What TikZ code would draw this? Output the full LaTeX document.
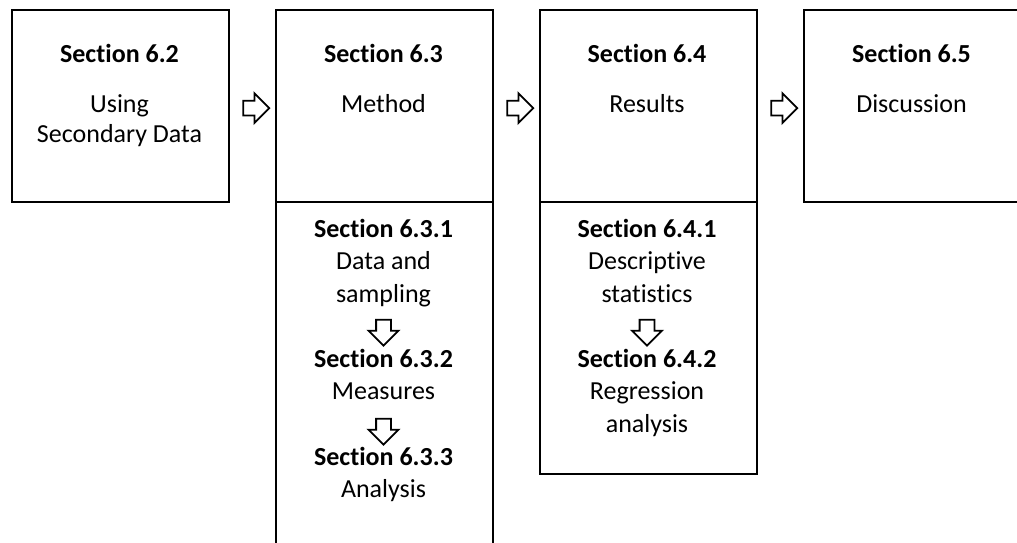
\documentclass[tikz,border=0pt]{standalone}
\usepackage{fontspec}
\setmainfont{Carlito}[Ligatures=NoCommon]
\usetikzlibrary{shapes.arrows,calc}

\begin{document}
\begin{tikzpicture}[x=1pt, y=-1pt,
  secbox/.style={draw, line width=2.2pt, anchor=north west, minimum width=217pt, inner sep=0pt},
  sectext/.style={anchor=north, align=center, inner sep=0pt, font=\fontsize{26}{32.5}\selectfont},
  toptext/.style={sectext, font=\fontsize{26}{30}\selectfont},
  rarrow/.style={single arrow, draw, line width=1.8pt, fill=white, minimum height=26pt, inner xsep=0pt, inner ysep=6.5pt, single arrow head extend=7.5pt, single arrow head indent=0pt},
  darrow/.style={rarrow, shape border rotate=270, inner xsep=6.5pt, inner ysep=0pt}]
\clip (0,0) rectangle (1017,543);
\node[secbox, minimum height=192pt] (S2) at (11,9) {};
\node[secbox, minimum height=192pt] (S3) at (275,9) {};
\node[secbox, minimum height=360pt] (S3sub) at (275,201) {};
\node[secbox, minimum height=192pt] (S4) at (539,9) {};
\node[secbox, minimum height=272pt] (S4sub) at (539,201) {};
\node[secbox, minimum height=192pt] (S5) at (803,9) {};
\node[toptext] (T2) at (119.5,41) {\strut\textbf{Section 6.2}\\[20pt]Using\\Secondary Data};
\node[toptext] (T3) at (383.5,41) {\strut\textbf{Section 6.3}\\[20pt]Method};
\node[toptext] (T4) at (647,41) {\strut\textbf{Section 6.4}\\[20pt]Results};
\node[toptext] (T5) at (911.5,41) {\strut\textbf{Section 6.5}\\[20pt]Discussion};
\node[sectext] (T31) at (383.5,214.25) {\strut\textbf{Section 6.3.1}\\Data and\\sampling};
\node[sectext] (T32) at (383.5,344.25) {\strut\textbf{Section 6.3.2}\\Measures};
\node[sectext] (T33) at (383.5,442.25) {\strut\textbf{Section 6.3.3}\\Analysis};
\node[sectext] (T41) at (647,214.25) {\strut\textbf{Section 6.4.1}\\Descriptive\\statistics};
\node[sectext] (T42) at (647,344.25) {\strut\textbf{Section 6.4.2}\\Regression\\analysis};
\node[rarrow, yshift=-2pt] (A23) at ($(S2.east)!0.5!(S3.west)$) {};
\node[rarrow, yshift=-2pt] (A34) at ($(S3.east)!0.5!(S4.west)$) {};
\node[rarrow, yshift=-2pt] (A45) at ($(S4.east)!0.5!(S5.west)$) {};
\node[darrow] (A312) at (383.5,329) {};
\node[darrow] (A323) at (383.5,428) {};
\node[darrow] (A412) at (647,329) {};
\end{tikzpicture}
\end{document}
